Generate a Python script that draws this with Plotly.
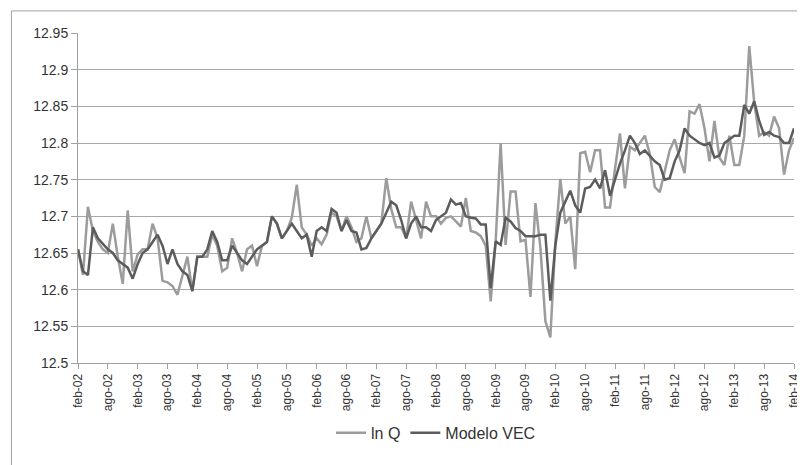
import plotly.graph_objects as go

# monthly categories feb-02 .. feb-14
month_abbr = ["ene", "feb", "mar", "abr", "may", "jun", "jul", "ago", "sep", "oct", "nov", "dic"]
categories = []
y, m = 2002, 2
while (y, m) <= (2014, 2):
    categories.append(f"{month_abbr[m-1]}-{str(y)[2:]}")
    m += 1
    if m > 12:
        m = 1
        y += 1

ln_q = [
    12.655, 12.62, 12.713, 12.68, 12.665, 12.655, 12.65, 12.69, 12.645, 12.608,
    12.708, 12.625, 12.648, 12.655, 12.655, 12.69, 12.67, 12.612, 12.61, 12.605,
    12.593, 12.618, 12.645, 12.598, 12.645, 12.645, 12.645, 12.675, 12.66, 12.625,
    12.63, 12.67, 12.65, 12.625, 12.655, 12.66, 12.632, 12.66, 12.665, 12.70,
    12.69, 12.67, 12.68, 12.698, 12.743, 12.685, 12.675, 12.66, 12.67, 12.662,
    12.675, 12.705, 12.70, 12.68, 12.70, 12.685, 12.665, 12.67, 12.70, 12.67,
    12.68, 12.69, 12.752, 12.71, 12.685, 12.685, 12.67, 12.72, 12.695, 12.67,
    12.72, 12.70, 12.70, 12.69, 12.698, 12.70, 12.693, 12.686, 12.725, 12.68,
    12.678, 12.673, 12.66, 12.584, 12.666, 12.80, 12.661, 12.734, 12.734, 12.666,
    12.668, 12.59, 12.718, 12.657, 12.557, 12.535, 12.665, 12.751, 12.69, 12.70,
    12.628, 12.786, 12.788, 12.76, 12.79, 12.79, 12.712, 12.712, 12.765, 12.813,
    12.738, 12.795, 12.79, 12.80, 12.81, 12.785, 12.74, 12.733, 12.76, 12.79,
    12.805, 12.78, 12.759, 12.843, 12.84, 12.853, 12.82, 12.775, 12.83, 12.78,
    12.77, 12.81, 12.77, 12.77, 12.81, 12.932, 12.855, 12.81, 12.815, 12.81,
    12.836, 12.82, 12.757, 12.79, 12.807,
]

modelo_vec = [
    12.655, 12.625, 12.62, 12.685, 12.67, 12.662, 12.655, 12.65, 12.64, 12.635,
    12.63, 12.615, 12.635, 12.65, 12.655, 12.665, 12.675, 12.66, 12.635, 12.655,
    12.635, 12.625, 12.62, 12.598, 12.645, 12.645, 12.655, 12.68, 12.665, 12.64,
    12.64, 12.66, 12.65, 12.64, 12.635, 12.645, 12.655, 12.66, 12.665, 12.70,
    12.69, 12.67, 12.68, 12.69, 12.68, 12.67, 12.675, 12.645, 12.68, 12.685,
    12.68, 12.71, 12.705, 12.68, 12.695, 12.68, 12.678, 12.655, 12.657, 12.67,
    12.68, 12.69, 12.705, 12.72, 12.715, 12.695, 12.67, 12.69, 12.70, 12.685,
    12.685, 12.68, 12.695, 12.70, 12.705, 12.723, 12.716, 12.718, 12.70, 12.698,
    12.697, 12.689, 12.689, 12.602, 12.666, 12.661, 12.698, 12.693, 12.684, 12.68,
    12.673, 12.673, 12.673, 12.675, 12.675, 12.585, 12.66, 12.705, 12.72, 12.735,
    12.715, 12.705, 12.738, 12.74, 12.75, 12.738, 12.763, 12.728, 12.75, 12.772,
    12.79, 12.81, 12.80, 12.785, 12.79, 12.783, 12.775, 12.77, 12.75, 12.752,
    12.775, 12.79, 12.82, 12.81, 12.805, 12.80, 12.797, 12.80, 12.78, 12.783,
    12.80, 12.805, 12.81, 12.81, 12.852, 12.84, 12.857, 12.83, 12.811, 12.815,
    12.81, 12.808, 12.80, 12.80, 12.82,
]

y_tick_vals = [12.5, 12.55, 12.6, 12.65, 12.7, 12.75, 12.8, 12.85, 12.9, 12.95]
y_tick_text = ["12.5", "12.55", "12.6", "12.65", "12.7", "12.75", "12.8", "12.85", "12.9", "12.95"]
x_tick_labels = categories[::6]

font_family = "Liberation Sans"
fig = go.Figure()
fig.add_trace(go.Scatter(x=categories, y=ln_q, mode="lines", name="ln Q",
                         line=dict(color="#9c9c9c", width=2.5)))
fig.add_trace(go.Scatter(x=categories, y=modelo_vec, mode="lines", name="Modelo VEC",
                         line=dict(color="#5c5c5c", width=2.5)))

fig.update_layout(
    width=805, height=465,
    margin=dict(l=70, r=15, t=25, b=110),
    paper_bgcolor="white", plot_bgcolor="white",
    font=dict(family=font_family, size=13, color="#333333"),
    showlegend=True,
    legend=dict(orientation="h", x=0.5, xanchor="center", y=-0.16, yanchor="top",
                font=dict(size=16, color="#333333"), itemwidth=30,
                bgcolor="rgba(0,0,0,0)"),
    shapes=[dict(type="rect", xref="paper", yref="paper",
                 x0=-0.093, x1=1.03, y0=-0.4, y1=1.067,
                 line=dict(color="#a0a0a0", width=1))],
)
fig.update_xaxes(type="category", range=[0, len(categories) - 1],
                 tickmode="array", tickvals=x_tick_labels, ticktext=x_tick_labels,
                 tickangle=-90, ticks="outside", ticklen=5, tickcolor="#a0a0a0",
                 showline=True, linecolor="#a0a0a0", linewidth=1,
                 showgrid=False, tickfont=dict(size=12, color="#333333"))
fig.update_yaxes(range=[12.5, 12.95], tickmode="array", tickvals=y_tick_vals,
                 ticktext=y_tick_text, ticks="outside", ticklen=6, tickcolor="#a0a0a0",
                 showline=True, linecolor="#a0a0a0", linewidth=1,
                 showgrid=True, gridcolor="#a8a8a8", gridwidth=1,
                 zeroline=False, tickfont=dict(size=14, color="#333333"))

fig.write_html("out.html")
